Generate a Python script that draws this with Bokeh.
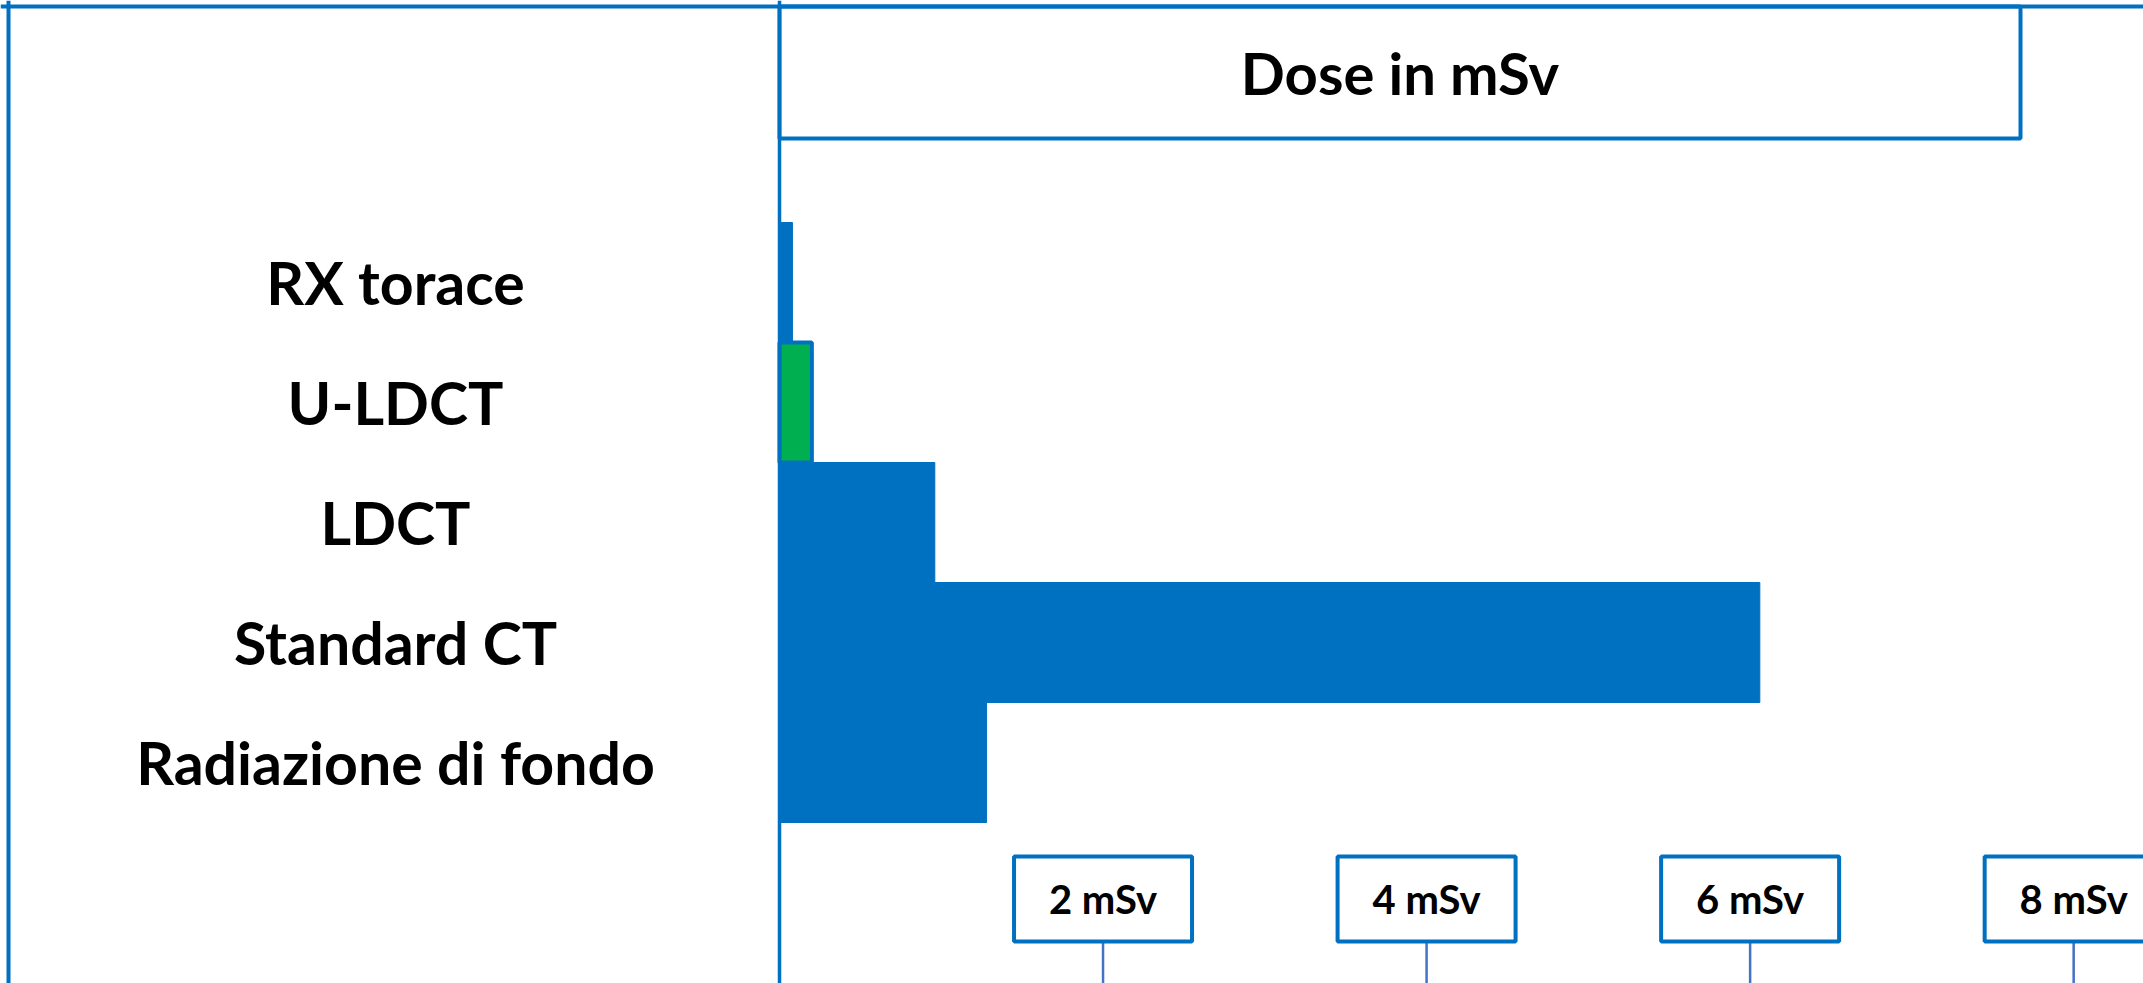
from bokeh.plotting import figure
from bokeh.models import Range1d, Span
from bokeh.embed import file_html
from bokeh.resources import INLINE
from bokeh.core.properties import value

# ---- data ----
categories = ["RX torace", "U-LDCT", "LDCT", "Standard CT", "Radiazione di fondo"]
doses = [0.08, 0.2, 0.96, 6.06, 1.28]
bar_colors = ["#0070C0", "#00B050", "#0070C0", "#0070C0", "#0070C0"]
tick_values = [2, 4, 6, 8]
tick_labels = ["2 mSv", "4 mSv", "6 mSv", "8 mSv"]
title_text = "Dose in mSv"

# ---- layout ----
BLUE = "#0070C0"
TICK_BLUE = "#4472C4"
FONT = value("Lato")
W, H = 2143, 983
PX_X = 161.77          # pixels per mSv
ZERO_PX = 779          # figure pixel of 0 mSv
PX_ROW = 120           # pixels per category row
ROW0_PX = 282          # figure pixel of the first row centre

x_start = -ZERO_PX / PX_X
x_end = (W - ZERO_PX) / PX_X
y_end = ROW0_PX / PX_ROW
y_start = (ROW0_PX - H) / PX_ROW

p = figure(width=W, height=H, x_range=Range1d(x_start, x_end), y_range=Range1d(y_start, y_end),
           output_backend="svg", toolbar_location=None, min_border=0)
p.axis.visible = False
p.grid.visible = False
p.outline_line_color = None
p.background_fill_color = "white"
p.border_fill_color = "white"

ys = [-i for i in range(len(categories))]

# frame lines (top and left), divider at 0
frame_top = y_end - 6 / PX_ROW
p.add_layout(Span(location=frame_top, dimension="width", line_color=BLUE, line_width=4))
p.add_layout(Span(location=x_start + 8 / PX_X, dimension="height", line_color=BLUE, line_width=4))
p.add_layout(Span(location=0, dimension="height", line_color=BLUE, line_width=3.5))

# title box
title_right = 1241 / PX_X
title_bottom = y_end - 138 / PX_ROW
p.quad(left=[0], right=[title_right], top=[frame_top], bottom=[title_bottom],
       fill_color="white", line_color=BLUE, line_width=4)
p.text(x=[title_right / 2], y=[(frame_top + title_bottom) / 2], text=[title_text],
       text_align="center", text_baseline="middle", text_font=FONT,
       text_font_style="bold", text_font_size="58px", text_color="black")

# bars
line_widths = [4 if c == "#00B050" else 1 for c in bar_colors]
p.hbar(y=ys, left=0, right=doses, height=1.0, fill_color=bar_colors,
       line_color=BLUE, line_width=line_widths)

# category labels
p.text(x=[-384 / PX_X] * len(categories), y=ys, text=categories,
       text_align="center", text_baseline="middle", text_font=FONT,
       text_font_style="bold", text_font_size="59px", text_color="black")

# tick boxes
box_top = y_end - 856 / PX_ROW
box_bottom = y_end - 941 / PX_ROW
box_mid = (box_top + box_bottom) / 2
p.segment(x0=tick_values, y0=[box_bottom] * len(tick_values), x1=tick_values,
          y1=[y_start] * len(tick_values), line_color=TICK_BLUE, line_width=2.5)
p.rect(x=tick_values, y=[box_mid] * len(tick_values),
       width=178 / PX_X, height=box_top - box_bottom,
       fill_color="white", line_color=BLUE, line_width=4)
p.text(x=tick_values, y=[box_mid] * len(tick_values), text=tick_labels,
       text_align="center", text_baseline="middle", text_font=FONT,
       text_font_style="bold", text_font_size="40px", text_color="black")

open("out.html", "w").write(file_html(p, INLINE))
